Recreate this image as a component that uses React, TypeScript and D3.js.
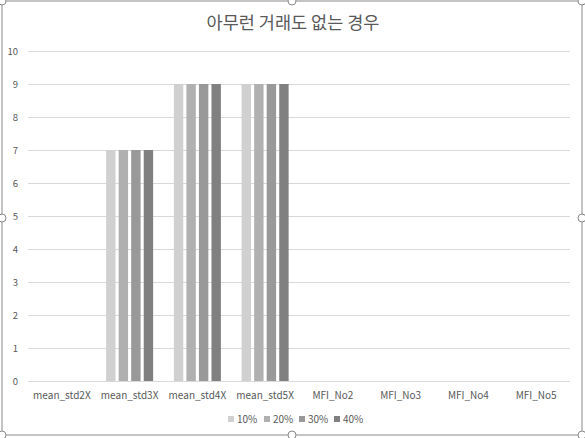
import React from "react";
import * as d3 from "d3";

const categories = ["mean_std2X", "mean_std3X", "mean_std4X", "mean_std5X", "MFI_No2", "MFI_No3", "MFI_No4", "MFI_No5"];
const seriesNames = ["10%", "20%", "30%", "40%"];
const s10 = [0, 7, 9, 9, 0, 0, 0, 0];
const s20 = [0, 7, 9, 9, 0, 0, 0, 0];
const s30 = [0, 7, 9, 9, 0, 0, 0, 0];
const s40 = [0, 7, 9, 9, 0, 0, 0, 0];
const yTicks = [0, 1, 2, 3, 4, 5, 6, 7, 8, 9, 10];
const title = "아무런 거래도 없는 경우";

const W = 585;
const H = 438;
const colors = ["#d0d0d0", "#b0b0b0", "#999999", "#808080"];
const font = "'Noto Sans CJK KR', 'Noto Sans', sans-serif";
const textColor = "#595959";

export default function App() {
  const seriesValues = [s10, s20, s30, s40];
  const y = d3.scaleLinear().domain([0, 10]).range([381, 51]);
  const x0 = d3.scaleBand<string>().domain(categories).range([28, 570]).paddingInner(0.306).paddingOuter(0.153);
  const x1 = d3.scaleBand<string>().domain(seriesNames).range([0, x0.bandwidth()]).paddingInner(0.25);

  const handles: [number, number][] = [
    [2, 1], [292, 1], [582, 1],
    [2, 218], [582, 218],
    [2, 435], [292, 435], [582, 435],
  ];

  const legendX = [228, 264, 299, 334];

  return (
    <svg width={W} height={H} style={{ position: "absolute", left: 0, top: 0, display: "block" }} fontFamily={font}>
      <rect x={0} y={0} width={W} height={H} fill="#ffffff" />
      <rect x={2} y={1} width={580} height={434} fill="#ffffff" stroke="#8a8a8a" strokeWidth={1} />
      <text x={293} y={29} textAnchor="middle" fontSize={17.5} fill={textColor}>{title}</text>
      {yTicks.map((t) => (
        <g key={t}>
          <line x1={28} x2={570} y1={Math.round(y(t)) + 0.5} y2={Math.round(y(t)) + 0.5} stroke="#d9d9d9" strokeWidth={1} />
          <text x={18} y={y(t) + 3.5} textAnchor="end" fontSize={9.5} fill={textColor}>{t}</text>
        </g>
      ))}
      {categories.map((c, ci) => (
        <g key={c}>
          {seriesValues.map((vals, si) => {
            const v = vals[ci];
            if (v <= 0) return null;
            const bx = (x0(c) as number) + (x1(seriesNames[si]) as number);
            return <rect key={si} x={bx} y={y(v)} width={x1.bandwidth()} height={y(0) - y(v)} fill={colors[si]} />;
          })}
          <text x={(x0(c) as number) + x0.bandwidth() / 2} y={399} textAnchor="middle" fontSize={10} fill={textColor}>{c}</text>
        </g>
      ))}
      {seriesNames.map((s, si) => (
        <g key={s}>
          <rect x={legendX[si]} y={416} width={6} height={6} fill={colors[si]} />
          <text x={legendX[si] + 9} y={423} fontSize={10} fill={textColor}>{s}</text>
        </g>
      ))}
      {handles.map(([hx, hy], i) => (
        <circle key={i} cx={hx} cy={hy} r={4} fill="#ffffff" stroke="#8a8a8a" strokeWidth={1} />
      ))}
    </svg>
  );
}
